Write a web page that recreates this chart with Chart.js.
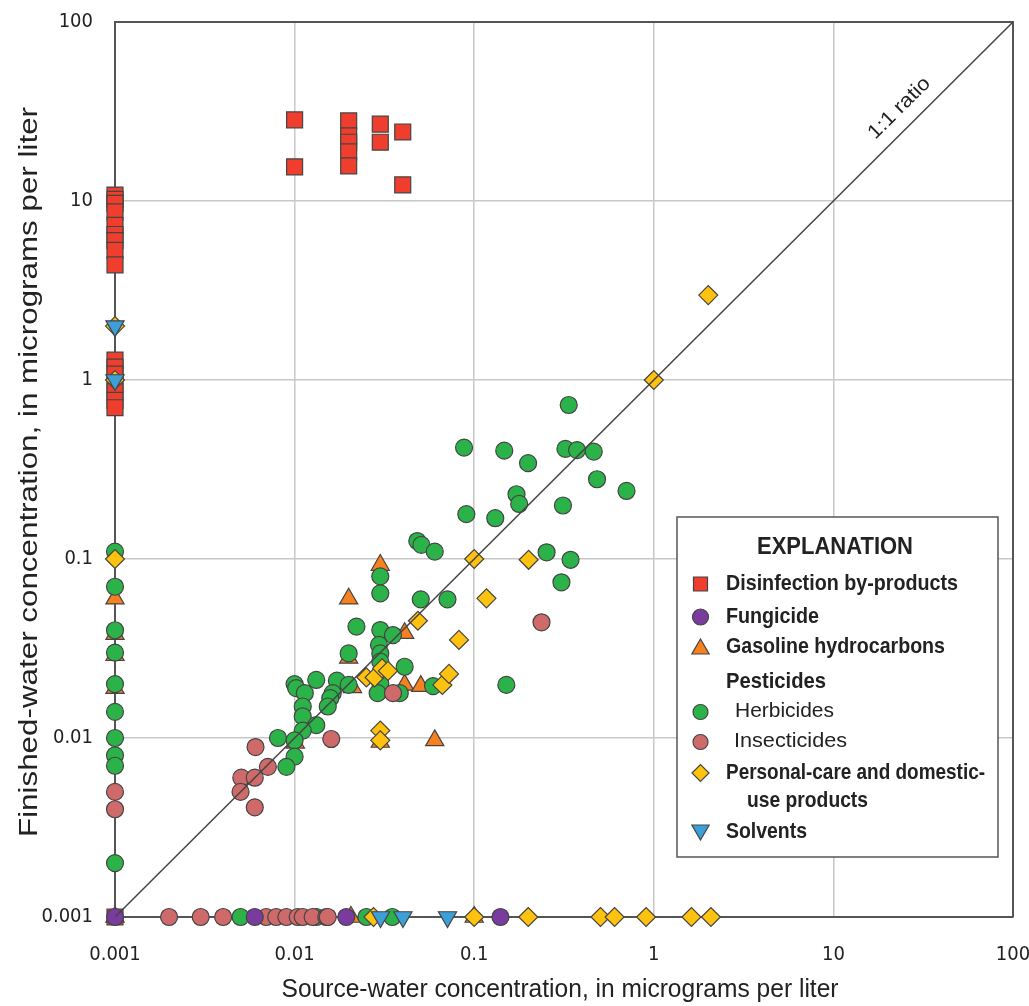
<!DOCTYPE html>
<html><head><meta charset="utf-8">
<script src="https://cdn.jsdelivr.net/npm/chart.js@4/dist/chart.umd.min.js"></script>
<style>html,body{margin:0;padding:0;background:#fff}#wrap{width:1029px;height:1006px}</style>
</head><body><div id="wrap"><canvas id="c" width="1029" height="1006"></canvas></div>
<script>
// ---------- data ----------
const tickValues = [0.001, 0.01, 0.1, 1, 10, 100];
const tickLabels = ['0.001', '0.01', '0.1', '1', '10', '100'];
const xTitle = 'Source-water concentration, in micrograms per liter';
const yTitle = 'Finished-water concentration, in micrograms per liter';
const legendTitle = 'EXPLANATION';
const ratioLabel = '1:1 ratio';
const seriesNames = ['Disinfection by-products', 'Fungicide', 'Gasoline hydrocarbons',
  'Herbicides', 'Insecticides', 'Personal-care and domestic-use products', 'Solvents'];

const dbpX = [0.001,0.001,0.001,0.001,0.001,0.001,0.001,0.001,0.001,0.001,0.001,0.001,0.001,0.001,0.001,0.001,0.001,
  0.01,0.01, 0.02,0.02,0.02,0.02,0.02, 0.03,0.03, 0.04,0.04];
const dbpY = [10.8,10.2,9.7,8.7,7.3,6.5,6.0,5.3,4.4,1.29,1.18,1.08,0.95,0.86,0.77,0.70,0.001,
  28.4,15.5, 28,23.1,21.3,18.8,15.7, 26.9,21.3, 24.3,12.3];

const fungX = [0.001, 0.006, 0.0194, 0.14];
const fungY = [0.001, 0.001, 0.001, 0.001];

const gasX = [0.001,0.001,0.001,0.001,0.001, 0.03,0.02,0.041,0.02,0.041,0.0504,0.03,0.0603,0.0101,0.021, 0.0206,0.1];
const gasY = [0.06,0.038,0.029,0.019,0.001, 0.0925,0.06,0.0385,0.028,0.0198,0.0195,0.0095,0.0097,0.0094,0.0192, 0.001,0.001];

const herbX = [0.001,0.001,0.001,0.001,0.001,0.001,0.001,0.001,0.001,0.001,
  0.005,0.0132,0.0251,0.035,
  0.0878,0.147,0.336,0.1995,0.322,0.374,0.463,0.483,0.705,0.172,0.178,0.312,0.131,0.0904,0.253,0.344,0.306,0.0482,0.0508,0.0603,
  0.03,0.03,0.0504,0.071,0.0221,0.03,0.0353,0.0295,0.02,0.03,0.03,0.041,0.03,0.029,0.059,0.151,0.0385,
  0.01,0.0102,0.0132,0.0172,0.02,0.0114,0.0163,0.0158,0.0111,0.0153,0.0111,0.0132,0.0111,0.00808,0.01,0.01,0.009];
const herbY = [0.11,0.07,0.04,0.03,0.02,0.014,0.01,0.008,0.007,0.002,
  0.001,0.001,0.001,0.001,
  0.419,0.403,0.725,0.343,0.412,0.406,0.398,0.279,0.24,0.23,0.203,0.199,0.169,0.178,0.109,0.099,0.0741,0.126,0.12,0.11,
  0.08,0.0643,0.0595,0.0595,0.0419,0.0401,0.0376,0.0331,0.0297,0.0297,0.0267,0.025,0.0203,0.0178,0.0195,0.0198,0.0178,
  0.02,0.019,0.0211,0.0209,0.0198,0.0178,0.0178,0.0167,0.015,0.015,0.0132,0.0118,0.011,0.01,0.0097,0.00787,0.0069];

const insX = [0.001,0.001,
  0.002,0.003,0.004,0.00695,0.0079,0.009,0.0104,0.0111,0.0126,0.015,0.0153,
  0.0353,0.016,0.00606,0.0071,0.00505,0.006,0.005,0.006,0.237];
const insY = [0.005,0.004,
  0.001,0.001,0.001,0.001,0.001,0.001,0.001,0.001,0.001,0.001,0.001,
  0.0178,0.00987,0.0089,0.0069,0.006,0.006,0.005,0.0041,0.0443];

const pcpX = [0.001,0.001,0.001,
  0.0275,0.1,0.2,0.505,0.605,0.906,1.62,2.08,
  2.01,1.0,0.1,0.201,0.117,0.0486,0.0823,0.0251,0.0279,0.0307,0.0331,0.0665,0.0724,0.03,0.03];
const pcpY = [2,1,0.1,
  0.001,0.001,0.001,0.001,0.001,0.001,0.001,0.001,
  2.98,1.0,0.1,0.099,0.0603,0.0452,0.0353,0.0218,0.0218,0.0245,0.0237,0.0198,0.0228,0.011,0.0097];

const solX = [0.001,0.001,0.0301,0.0401,0.071];
const solY = [2,1,0.001,0.001,0.001];

const lineX = [0.001, 100];
const lineY = [0.001, 100];

// ---------- styling ----------
const TFAM = '"Liberation Sans",Arial,sans-serif';
const TICKFAM = '"DejaVu Sans Condensed","Liberation Sans Narrow",sans-serif';
const EDGE = '#444';
const COLORS = {dbp:'#ef3e2e', fung:'#7a3b9e', gas:'#f7801f', herb:'#2bb34a', ins:'#cf6a6a', pcp:'#ffc20e', sol:'#3c9fd8'};
const pts = (xs, ys) => xs.map((x, i) => ({x: x, y: ys[i]}));

function sds(label, xs, ys, color, style, r, order, rot) {
  return {label: label, data: pts(xs, ys), backgroundColor: color, borderColor: EDGE, borderWidth: 1.2,
    pointStyle: style, pointRadius: r, pointHoverRadius: r, pointRotation: rot || 0, order: order, clip: false};
}

// text with given font size, horizontally compressed/stretched to a target width
function drawText(ctx, text, x, y, weight, size, width, align, angle) {
  ctx.save();
  ctx.font = weight + ' ' + size + 'px ' + TFAM;
  const w = ctx.measureText(text).width;
  ctx.translate(x, y);
  if (angle) ctx.rotate(angle);
  ctx.scale(width / w, 1);
  ctx.textAlign = align; ctx.textBaseline = 'middle';
  ctx.fillText(text, 0, 0);
  ctx.restore();
}

function marker(ctx, style, x, y, r, color, rot) {
  ctx.save();
  ctx.fillStyle = color; ctx.strokeStyle = EDGE; ctx.lineWidth = 1.2;
  ctx.beginPath();
  if (style === 'circle') ctx.arc(x, y, r, 0, Math.PI * 2);
  else if (style === 'rect') ctx.rect(x - r, y - r, 2 * r, 2 * r);
  else if (style === 'rectRot') { ctx.moveTo(x - r, y); ctx.lineTo(x, y - r); ctx.lineTo(x + r, y); ctx.lineTo(x, y + r); ctx.closePath(); }
  else if (style === 'triangle') {
    const s = rot ? -1 : 1;
    ctx.moveTo(x, y - s * r); ctx.lineTo(x + r * 0.866, y + s * r * 0.5); ctx.lineTo(x - r * 0.866, y + s * r * 0.5); ctx.closePath();
  }
  ctx.fill(); ctx.stroke();
  ctx.restore();
}

const deco = {
  id: 'deco',
  beforeDatasetsDraw(chart) {
    const {ctx, chartArea: a} = chart;
    ctx.save();
    ctx.strokeStyle = '#555'; ctx.lineWidth = 2;
    ctx.beginPath();
    ctx.moveTo(a.left, a.top); ctx.lineTo(a.right, a.top); ctx.lineTo(a.right, a.bottom);
    ctx.stroke();
    ctx.restore();
  },
  afterDraw(chart) {
    const {ctx, chartArea: a} = chart;
    const xs = chart.scales.x, ys = chart.scales.y;
    ctx.save();
    ctx.fillStyle = '#222';
    // axis titles
    drawText(ctx, xTitle, 560, 990, 'normal', 25, 557, 'center', 0);
    drawText(ctx, yTitle, 30, 472, 'normal', 25, 730, 'center', -Math.PI / 2);
    // 1:1 ratio label
    const ang = Math.atan2(a.top - a.bottom, a.right - a.left);
    const px = xs.getPixelForValue(27.7), py = ys.getPixelForValue(27.7);
    drawText(ctx, ratioLabel, px - 13.5, py - 13.5, 'normal', 20, 79, 'center', ang);
    // legend box
    ctx.fillStyle = '#fff';
    ctx.fillRect(677, 517, 321, 340);
    ctx.strokeStyle = '#555'; ctx.lineWidth = 1.5;
    ctx.strokeRect(677, 517, 321, 340);
    ctx.fillStyle = '#222';
    drawText(ctx, legendTitle, 835, 548, 'bold', 23, 156, 'center', 0);
    const mx = 700.5, tx = 726;
    marker(ctx, 'rect', mx, 584, 7, COLORS.dbp);
    drawText(ctx, seriesNames[0], tx, 584, 'bold', 22, 232, 'left', 0);
    marker(ctx, 'circle', mx, 617, 8, COLORS.fung);
    drawText(ctx, seriesNames[1], tx, 617, 'bold', 22, 93, 'left', 0);
    marker(ctx, 'triangle', mx, 649, 10, COLORS.gas);
    drawText(ctx, seriesNames[2], tx, 647, 'bold', 22, 219, 'left', 0);
    drawText(ctx, 'Pesticides', tx, 682, 'bold', 22, 100, 'left', 0);
    marker(ctx, 'circle', mx, 712, 7.5, COLORS.herb);
    drawText(ctx, seriesNames[3], 735, 711, 'normal', 21, 99, 'left', 0);
    marker(ctx, 'circle', mx, 742, 7.5, COLORS.ins);
    drawText(ctx, seriesNames[4], 734, 741, 'normal', 21, 113, 'left', 0);
    marker(ctx, 'rectRot', mx, 773, 8.5, COLORS.pcp);
    drawText(ctx, 'Personal-care and domestic-', tx, 773, 'bold', 22, 259, 'left', 0);
    drawText(ctx, 'use products', 747, 801, 'bold', 22, 121, 'left', 0);
    marker(ctx, 'triangle', mx, 830, 10, COLORS.sol, true);
    drawText(ctx, seriesNames[6], tx, 832, 'bold', 22, 81, 'left', 0);
    ctx.restore();
  }
};

const axisCommon = (isX) => ({
  type: 'logarithmic', min: 0.001, max: 100,
  afterBuildTicks: s => { s.ticks = tickValues.map(v => ({value: v})); },
  afterFit: s => {
    if (isX) s.height = 89; else s.width = 115;
    s.paddingLeft = 0; s.paddingRight = 0; s.paddingTop = 0; s.paddingBottom = 0;
  },
  ticks: {
    autoSkip: false, maxRotation: 0, padding: isX ? 26 : 22, color: '#222',
    font: {family: TICKFAM, size: 20},
    callback: (v, i) => tickLabels[i]
  },
  grid: {color: '#c8c8c8', lineWidth: 1.5, drawTicks: false},
  border: {display: true, color: '#555', width: 2}
});

new Chart(document.getElementById('c'), {
  type: 'scatter',
  data: {
    datasets: [
      {type: 'line', label: 'ratio', data: pts(lineX, lineY), borderColor: '#444', borderWidth: 1.5,
        pointRadius: 0, showLine: true, fill: false, order: 0},
      sds(seriesNames[6], solX, solY, COLORS.sol, 'triangle', 10.5, 1, 180),
      sds(seriesNames[5], pcpX, pcpY, COLORS.pcp, 'rectRot', 9.5, 2),
      sds(seriesNames[1], fungX, fungY, COLORS.fung, 'circle', 8.5, 3),
      sds(seriesNames[4], insX, insY, COLORS.ins, 'circle', 8.5, 4),
      sds(seriesNames[3], herbX, herbY, COLORS.herb, 'circle', 8.5, 5),
      sds(seriesNames[0], dbpX, dbpY, COLORS.dbp, 'rect', 11.3, 6),
      sds(seriesNames[2], gasX, gasY, COLORS.gas, 'triangle', 10.5, 7)
    ]
  },
  options: {
    responsive: false, animation: false, devicePixelRatio: 1,
    layout: {padding: {top: 22, right: 16, left: 0, bottom: 0}},
    plugins: {legend: {display: false}, tooltip: {enabled: false}},
    scales: {x: axisCommon(true), y: axisCommon(false)}
  },
  plugins: [deco]
});
</script>
</body></html>
